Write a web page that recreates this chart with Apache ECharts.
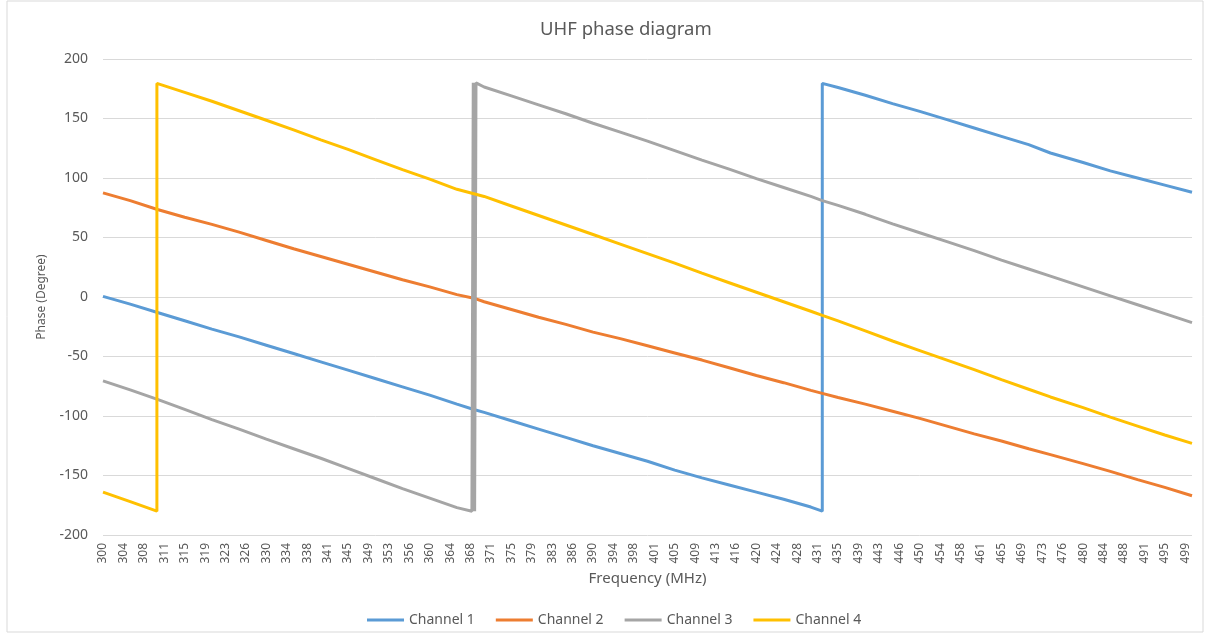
<!DOCTYPE html>
<html>
<head>
<meta charset="utf-8">
<script src="https://cdn.jsdelivr.net/npm/echarts@6/dist/echarts.min.js"></script>
<style>
  html, body { margin: 0; padding: 0; background: #fff; }
  #chart { width: 1205px; height: 637px; }
</style>
</head>
<body>
<div id="chart"></div>
<script>
// x axis tick labels (Excel shows every 15th category, ~3.75 MHz apart)
const freqLabels = [300, 304, 308, 311, 315, 319, 323, 326, 330, 334, 338, 341, 345, 349, 353, 356, 360, 364, 368, 371,
    375, 379, 383, 386, 390, 394, 398, 401, 405, 409, 413, 416, 420, 424, 428, 431, 435, 439, 443, 446,
    450, 454, 458, 461, 465, 469, 473, 476, 480, 484, 488, 491, 495, 499];

const seriesNames = ["Channel 1", "Channel 2", "Channel 3", "Channel 4"];
const seriesColors = ["#5b9bd5", "#ed7d31", "#a5a5a5", "#ffc000"];

// [frequency MHz, phase deg]
const ch1 = [
    [300, 0.5], [305, -6], [310, -13], [315, -20], [320, -27], [325, -33.5], [330, -40.5], [335, -47.5],
    [340, -54.5], [345, -61.5], [350, -68.5], [355, -75.5], [360, -82.5], [365, -90], [368.1, -94.5],
    [370, -97], [375, -104], [380, -111], [385, -118], [390, -125], [395, -131.5], [400, -138], [405, -145.5],
    [410, -152], [415, -158], [420, -164], [425, -170], [430, -176.5], [432.1, -180],
    [432.1, 179.5], [435, 176], [440, 169.5], [445, 162.5], [450, 156], [455, 149], [460, 142], [465, 135],
    [470, 128], [474, 121], [480, 113], [485, 106], [490, 100], [495, 94], [500, 88],
];
const ch2 = [
    [300, 87.5], [305, 81], [310, 73.5], [315, 67], [320, 61], [325, 54.5], [330, 47.5], [335, 40.5],
    [340, 34], [345, 27.5], [350, 21], [355, 14.5], [360, 8.5], [365, 2], [368.1, -1], [370, -4],
    [375, -10.5], [380, -17], [385, -23], [390, -29.5], [395, -35], [400, -41], [405, -47], [410, -53],
    [415, -59.5], [420, -66], [425, -72], [430, -78.5], [432.1, -81], [435, -84.5], [440, -90], [445, -96],
    [450, -102], [455, -108.5], [460, -115], [465, -121], [470, -127.5], [474, -132.5], [480, -140],
    [485, -146.5], [490, -153.5], [495, -160], [500, -167],
];
const ch3 = [
    [300, -70.5], [305, -78], [310, -86], [315, -94.5], [320, -103], [325, -111], [330, -119.5], [335, -127.5],
    [340, -135.5], [345, -144], [350, -152.5], [355, -161], [360, -169], [365, -177], [367.75, -180],
    [368, 180], [368.25, -180], [368.5, 180], [368.75, 178.5],
    [370, 176.5], [375, 169], [380, 161.5], [385, 154], [390, 146], [395, 138.5], [400, 131], [405, 123],
    [410, 115], [415, 107.5], [420, 99.5], [425, 92], [430, 84.5], [432.1, 81], [435, 77], [440, 69.5],
    [445, 61.5], [450, 54], [455, 46.5], [460, 39], [465, 31], [470, 23.5], [474, 17.5], [480, 8.5],
    [485, 1], [490, -6.5], [495, -14], [500, -21.5],
];
const ch4 = [
    [300, -164], [305, -172], [309.9, -180], [309.9, 179.5], [315, 172], [320, 164.5], [325, 156.5],
    [330, 148.5], [335, 140.5], [340, 132], [345, 124], [350, 115.5], [355, 107], [360, 99], [365, 90.5],
    [370, 84.5], [375, 76.5], [380, 68.5], [385, 60.5], [390, 52.5], [395, 44.5], [400, 36.5], [405, 28.5],
    [410, 20], [415, 12], [420, 4], [425, -4], [430, -12], [432.1, -15.5], [435, -20], [440, -28.5],
    [445, -37], [450, -45], [455, -53], [460, -61], [465, -69.5], [470, -77.5], [474, -84], [480, -93],
    [485, -101], [490, -108.5], [495, -116], [500, -123],
];
const channels = [ch1, ch2, ch3, ch4];

const font = "'Noto Sans', sans-serif";
const textColor = "#595959";
const gridColor = "#d9d9d9";

const myChart = echarts.init(document.getElementById("chart"));

const option = {
    animation: false,
    backgroundColor: "#fff",
    textStyle: { fontFamily: font },
    title: {
        text: "UHF phase diagram",
        left: 535,
        top: 15,
        textStyle: { fontFamily: font, fontSize: 18.5, fontWeight: "normal", color: textColor },
    },
    graphic: [
        {
            type: "rect",
            shape: { x: 7, y: 1, width: 1196, height: 631 },
            style: { fill: "none", stroke: gridColor, lineWidth: 1 },
            silent: true,
        },
    ],
    legend: {
        data: seriesNames,
        left: 362,
        top: 608,
        icon: "rect",
        itemWidth: 37,
        itemHeight: 3,
        itemGap: 21,
        textStyle: { fontFamily: font, fontSize: 14, color: textColor },
    },
    grid: { left: 103, right: 13, top: 59, bottom: 102 },
    xAxis: {
        type: "value",
        min: 300,
        max: 500,
        interval: 3.75,
        name: "Frequency (MHz)",
        nameLocation: "middle",
        nameGap: 34,
        nameTextStyle: { fontFamily: font, fontSize: 15, color: textColor },
        axisLine: { show: true, lineStyle: { color: gridColor, width: 1 } },
        axisTick: { show: false },
        splitLine: { show: false },
        axisLabel: {
            rotate: 90,
            margin: 8,
            fontFamily: font,
            fontSize: 12,
            color: textColor,
            formatter: function (v) {
                const k = (v - 300) / 3.75;
                const i = Math.round(k);
                if (Math.abs(k - i) > 1e-6 || freqLabels[i] == null) return "";
                return String(freqLabels[i]);
            },
        },
    },
    yAxis: {
        type: "value",
        min: -200,
        max: 200,
        interval: 50,
        name: "Phase (Degree)",
        nameLocation: "middle",
        nameGap: 55,
        nameTextStyle: { fontFamily: font, fontSize: 12, color: textColor },
        axisLine: { show: false },
        axisTick: { show: false },
        splitLine: { lineStyle: { color: gridColor, width: 1 } },
        axisLabel: { margin: 15, fontFamily: font, fontSize: 14, color: textColor },
    },
    series: channels.map(function (d, i) {
        return {
            name: seriesNames[i],
            type: "line",
            data: d,
            showSymbol: false,
            symbol: "none",
            color: seriesColors[i],
            lineStyle: { width: 3, color: seriesColors[i] },
        };
    }),
};

myChart.setOption(option);
</script>
</body>
</html>
